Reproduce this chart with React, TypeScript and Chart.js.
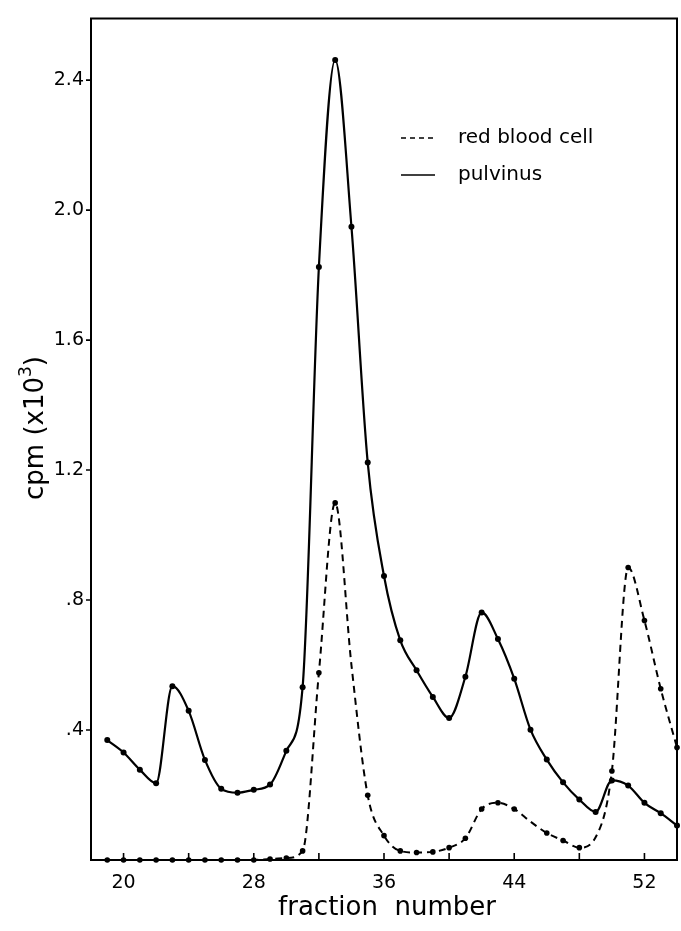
import React, { useEffect, useRef } from "react";
import { Chart, registerables } from "chart.js";

Chart.register(...registerables);

const fractions = [19, 20, 21, 22, 23, 24, 25, 26, 27, 28, 29, 30, 31, 32, 33, 34, 35, 36, 37, 38, 39, 40, 41, 42, 43, 44, 45, 46, 47, 48, 49, 50, 51, 52, 53, 54];

const pulvinus = [0.369, 0.331, 0.278, 0.236, 0.535, 0.459, 0.308, 0.219, 0.207, 0.216, 0.232, 0.336, 0.532, 1.825, 2.462, 1.949, 1.223, 0.874, 0.676, 0.584, 0.502, 0.437, 0.564, 0.762, 0.68, 0.558, 0.401, 0.309, 0.239, 0.186, 0.148, 0.245, 0.229, 0.176, 0.144, 0.106];

const redBloodCell = [0, 0, 0, 0, 0, 0, 0, 0, 0, 0, 0.003, 0.006, 0.028, 0.576, 1.099, 0.6, 0.199, 0.075, 0.028, 0.023, 0.025, 0.038, 0.067, 0.157, 0.176, 0.157, 0.118, 0.083, 0.06, 0.038, 0.07, 0.274, 0.9, 0.737, 0.527, 0.346];

// fractions whose red-blood-cell value has no plotted dot
const rbcUnmarked = [34, 45, 49];

const xTickLabels = [20, 28, 36, 44, 52];
const xMinorTicks = [20, 24, 28, 32, 36, 40, 44, 48, 52];
const yTickValues = [0.4, 0.8, 1.2, 1.6, 2.0, 2.4];

const seriesNames = ["red blood cell", "pulvinus"];
const xTitle = "fraction number";

const X_MIN = 18;
const X_MAX = 54;
const Y_MIN = 0;
const Y_MAX = 2.59;

const FONT = '"DejaVu Sans", sans-serif';

const decorPlugin = {
  id: "decor",
  afterDraw(chart: any) {
    const ctx = chart.ctx;
    const { left, right, top, bottom } = chart.chartArea;
    const xs = chart.scales.x;
    const ys = chart.scales.y;
    ctx.save();
    // frame
    ctx.strokeStyle = "#000";
    ctx.lineWidth = 2;
    ctx.beginPath();
    ctx.rect(left, top, right - left, bottom - top);
    ctx.stroke();
    // x ticks (inward)
    ctx.lineWidth = 1.6;
    ctx.beginPath();
    for (const v of xMinorTicks) {
      const px = xs.getPixelForValue(v);
      ctx.moveTo(px, bottom);
      ctx.lineTo(px, bottom - 7);
    }
    // y ticks (outward)
    for (const v of yTickValues) {
      const py = ys.getPixelForValue(v);
      ctx.moveTo(left, py);
      ctx.lineTo(left - 5, py);
    }
    ctx.stroke();

    // legend
    const lx0 = 401;
    const lx1 = 435;
    const rows = [138, 175];
    chart.data.datasets.forEach((ds: any, i: number) => {
      const y = rows[i];
      ctx.beginPath();
      ctx.lineWidth = 1.6;
      ctx.setLineDash(ds.borderDash && ds.borderDash.length ? [5, 4] : []);
      ctx.moveTo(lx0, y);
      ctx.lineTo(lx1, y);
      ctx.stroke();
      ctx.setLineDash([]);
      ctx.fillStyle = "#000";
      ctx.font = `20px ${FONT}`;
      ctx.textAlign = "left";
      ctx.textBaseline = "middle";
      ctx.fillText(ds.label, 458, y);
    });

    // x title
    ctx.font = `26px ${FONT}`;
    ctx.textAlign = "center";
    ctx.textBaseline = "middle";
    ctx.fillText(xTitle.replace(" ", "  "), 387, 908);

    // y title
    ctx.save();
    ctx.translate(36, 428);
    ctx.rotate(-Math.PI / 2);
    ctx.font = `26px ${FONT}`;
    ctx.textAlign = "center";
    ctx.textBaseline = "middle";
    const main = "cpm (x10";
    const sup = "3";
    const tail = ")";
    ctx.font = `26px ${FONT}`;
    const w1 = ctx.measureText(main).width;
    ctx.font = `17px ${FONT}`;
    const w2 = ctx.measureText(sup).width;
    ctx.font = `26px ${FONT}`;
    const w3 = ctx.measureText(tail).width;
    const total = w1 + w2 + w3;
    let x = -total / 2;
    ctx.textAlign = "left";
    ctx.fillText(main, x, 0);
    x += w1;
    ctx.font = `17px ${FONT}`;
    ctx.fillText(sup, x, -9);
    x += w2;
    ctx.font = `26px ${FONT}`;
    ctx.fillText(tail, x, 0);
    ctx.restore();

    ctx.restore();
  },
};

export default function App() {
  const ref = useRef<HTMLCanvasElement | null>(null);

  useEffect(() => {
    if (!ref.current) return;
    const chart = new Chart(ref.current, {
      type: "line",
      data: {
        datasets: [
          {
            label: seriesNames[0],
            data: fractions.map((f, i) => ({ x: f, y: redBloodCell[i] })),
            borderColor: "#000",
            backgroundColor: "#000",
            borderWidth: 2,
            borderDash: [7, 5],
            cubicInterpolationMode: "monotone",
            pointRadius: (c: any) => (rbcUnmarked.includes(fractions[c.dataIndex]) ? 0 : 2.8),
            pointBorderWidth: 0,
            pointBackgroundColor: "#000",
            clip: false,
          },
          {
            label: seriesNames[1],
            data: fractions.map((f, i) => ({ x: f, y: pulvinus[i] })),
            borderColor: "#000",
            backgroundColor: "#000",
            borderWidth: 2.2,
            cubicInterpolationMode: "monotone",
            pointRadius: 3,
            pointBorderWidth: 0,
            pointBackgroundColor: "#000",
            clip: false,
          },
        ],
      },
      options: {
        responsive: false,
        animation: false,
        events: [],
        layout: { padding: { top: 13, right: 2, left: 0, bottom: 0 } },
        plugins: {
          legend: { display: false },
          tooltip: { enabled: false },
        },
        scales: {
          x: {
            type: "linear",
            min: X_MIN,
            max: X_MAX,
            afterBuildTicks: (s: any) => {
              s.ticks = xTickLabels.map((v) => ({ value: v }));
            },
            afterFit: (s: any) => {
              s.height = 71;
            },
            grid: { display: false, drawTicks: false },
            border: { display: false },
            ticks: {
              color: "#000",
              font: { family: FONT, size: 19 },
              padding: 12,
              maxRotation: 0,
              autoSkip: false,
              callback: (v: any) => String(v),
            },
          },
          y: {
            type: "linear",
            min: Y_MIN,
            max: Y_MAX,
            afterBuildTicks: (s: any) => {
              s.ticks = yTickValues.map((v) => ({ value: v }));
            },
            afterFit: (s: any) => {
              s.width = 91;
            },
            grid: { display: false, drawTicks: false },
            border: { display: false },
            ticks: {
              color: "#000",
              font: { family: FONT, size: 19 },
              padding: 7,
              autoSkip: false,
              callback: (v: any) => {
                const n = Number(v);
                const s = n.toFixed(1);
                return n < 1 ? s.replace(/^0/, "") : s;
              },
            },
          },
        },
      },
      plugins: [decorPlugin],
    });
    return () => chart.destroy();
  }, []);

  return (
    <div style={{ position: "fixed", left: 0, top: 0, width: 681, height: 931, background: "#fff" }}>
      <canvas ref={ref} width={681} height={931} style={{ width: 681, height: 931, display: "block" }} />
    </div>
  );
}
